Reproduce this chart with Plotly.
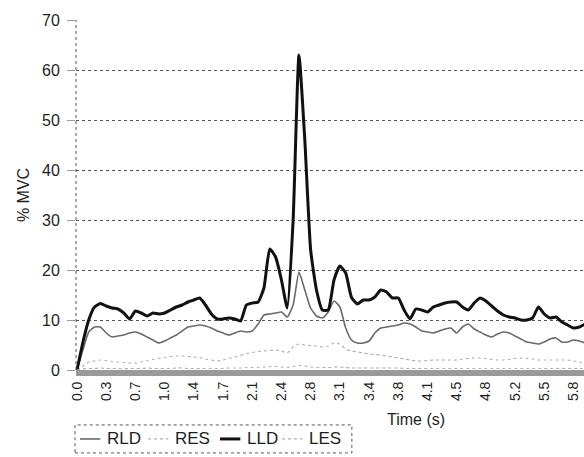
import plotly.graph_objects as go

# Sampling: 5 samples per labelled category step
label_step = 0.3436          # seconds between labelled categories
samples_per_label = 5
dt = label_step / samples_per_label

tick_labels = ["0.0", "0.3", "0.7", "1.0", "1.4", "1.7", "2.1", "2.4", "2.8",
               "3.1", "3.4", "3.8", "4.1", "4.5", "4.8", "5.2", "5.5", "5.8"]

rld = [0, 4, 7.6, 8.6, 8.6, 7.4, 6.6, 6.8, 7, 7.4,
       7.6, 7.2, 6.6, 6, 5.4, 5.8, 6.4, 7, 7.8, 8.6,
       8.8, 9, 8.8, 8.4, 7.8, 7.4, 7, 7.4, 7.8, 7.6,
       7.8, 9.2, 11, 11.2, 11.4, 11.6, 10.6, 13, 19.6, 16,
       12.4, 10.8, 10.4, 11.6, 13.8, 12.6, 8.4, 6, 5.4, 5.4,
       5.8, 7.4, 8.4, 8.6, 8.8, 9, 9.4, 9.2, 8.6, 7.8,
       7.6, 7.4, 7.8, 8.2, 8.4, 7.4, 8.6, 9.2, 8.2, 7.6,
       7, 6.6, 7.2, 7.6, 7.4, 6.8, 6.2, 5.6, 5.4, 5.2,
       5.6, 6.2, 6.4, 5.6, 5.6, 6, 5.8, 5.4]

res = [0, 0.8, 1.6, 1.8, 2, 1.9, 1.7, 1.6, 1.5, 1.4,
       1.4, 1.6, 1.9, 2.1, 2.3, 2.5, 2.7, 2.8, 2.8, 2.7,
       2.6, 2.5, 2.2, 2, 1.8, 2, 2.3, 2.6, 2.9, 3.3,
       3.5, 3.7, 3.8, 3.9, 4, 3.8, 3.4, 4.6, 5.2, 5,
       4.9, 4.8, 4.6, 4.8, 5.4, 5.2, 4.2, 3.8, 3.6, 3.4,
       3.2, 3.1, 3, 2.8, 2.6, 2.4, 2.2, 2, 1.8, 1.8,
       1.9, 2, 2, 2, 2, 2, 2.2, 2.3, 2.4, 2.4,
       2.3, 2.1, 2, 2, 2.1, 2.3, 2.4, 2.3, 2.2, 2,
       2, 2, 2, 2, 2, 1.8, 1.6, 1.4]

lld = [0, 5.5, 10, 12.6, 13.3, 12.8, 12.4, 12.2, 11.4, 10.2,
       11.8, 11.4, 10.8, 11.4, 11.2, 11.4, 12, 12.6, 13, 13.6,
       14, 14.4, 13, 11.2, 10.2, 10.2, 10.4, 10.2, 9.8, 13,
       13.4, 13.6, 16.4, 24.2, 22.6, 18, 12.4, 30, 63, 46,
       24, 16, 12, 12, 18, 20.8, 19.4, 14.5, 13.2, 14,
       14, 14.6, 16, 15.6, 14.4, 14.4, 12, 10.2, 12.2, 12,
       11.6, 12.6, 13, 13.4, 13.6, 13.6, 12.6, 12, 13.4, 14.4,
       13.8, 12.8, 11.8, 11, 10.6, 10.4, 10, 10, 10.4, 12.6,
       11.2, 10.4, 10.6, 9.6, 9, 8.4, 8.6, 9.2]

les = [0, 0.2, 0.3, 0.3, 0.4, 0.3, 0.3, 0.3, 0.2, 0.3,
       0.3, 0.3, 0.4, 0.3, 0.3, 0.3, 0.3, 0.4, 0.4, 0.3,
       0.3, 0.3, 0.3, 0.3, 0.3, 0.3, 0.4, 0.4, 0.4, 0.5,
       0.5, 0.5, 0.6, 0.7, 0.7, 0.6, 0.5, 0.7, 0.9, 0.8,
       0.6, 0.5, 0.5, 0.5, 0.6, 0.6, 0.5, 0.4, 0.4, 0.4,
       0.4, 0.4, 0.4, 0.4, 0.4, 0.4, 0.3, 0.3, 0.3, 0.3,
       0.3, 0.3, 0.3, 0.3, 0.3, 0.3, 0.3, 0.3, 0.3, 0.3,
       0.3, 0.3, 0.3, 0.3, 0.3, 0.3, 0.3, 0.3, 0.3, 0.3,
       0.3, 0.3, 0.3, 0.3, 0.3, 0.3, 0.3, 0.3]

time_s = [i * dt for i in range(len(lld))]
tick_vals = [k * label_step for k in range(len(tick_labels))]

FONT = "Liberation Sans, Arial, sans-serif"
INK = "#1e1e1e"

series = [
    ("RLD", rld, dict(color="#6a6a6a", width=1.6, dash="solid")),
    ("RES", res, dict(color="#b0b0b0", width=1.2, dash="dot")),
    ("LLD", lld, dict(color="#111111", width=3, dash="solid")),
    ("LES", les, dict(color="#b0b0b0", width=1.2, dash="dot")),
]

fig = go.Figure()
for name, values, style in series:
    fig.add_trace(go.Scatter(x=time_s, y=values, name=name, mode="lines",
                             line=dict(shape="spline", smoothing=0.5, **style)))

# Legend row drawn below the axis: sample line + label for each series
legend_sample_x = [0.0079, 0.1417, 0.2835, 0.4055]
legend_sample_w = 0.040
legend_y = -0.197
shapes = [
    # dotted left edge of the plot area
    dict(type="line", xref="paper", yref="paper", x0=0, x1=0, y0=0, y1=1,
         line=dict(color="#555555", width=1, dash="dot")),
    # dotted legend frame
    dict(type="rect", xref="paper", yref="paper", x0=-0.002, x1=0.543,
         y0=-0.237, y1=-0.157, line=dict(color="#555555", width=1, dash="dot")),
]
annotations = [
    dict(text="Time (s)", xref="paper", yref="paper", x=0.669, y=-0.112,
         xanchor="center", yanchor="top", showarrow=False,
         font=dict(family=FONT, size=16, color=INK)),
]
for (name, _, style), x0 in zip(series, legend_sample_x):
    shapes.append(dict(type="line", xref="paper", yref="paper",
                       x0=x0, x1=x0 + legend_sample_w, y0=legend_y, y1=legend_y,
                       line=dict(color=style["color"], width=style["width"],
                                 dash=style["dash"])))
    annotations.append(dict(text=name, xref="paper", yref="paper",
                            x=x0 + legend_sample_w + 0.009, y=legend_y,
                            xanchor="left", yanchor="middle", showarrow=False,
                            font=dict(family=FONT, size=17, color=INK)))

fig.update_layout(
    width=584, height=457,
    margin=dict(l=76, r=0, t=20, b=87),
    paper_bgcolor="white", plot_bgcolor="white",
    font=dict(family=FONT, size=15, color=INK),
    showlegend=False,
    xaxis=dict(range=[-0.012, 5.965], tickmode="array", tickvals=tick_vals,
               ticktext=tick_labels, tickangle=-90, showgrid=False,
               showline=True, linecolor="#9a9a9a", linewidth=6, ticks="",
               tickfont=dict(size=14, color=INK), zeroline=False),
    yaxis=dict(range=[0, 70], dtick=10, showgrid=True, gridcolor="#555555",
               griddash="dot", gridwidth=1, zeroline=False,
               showline=False, ticks="outside", ticklen=8, tickwidth=1,
               tickcolor="#9a9a9a", tickfont=dict(size=16, color=INK),
               ticklabelstandoff=4,
               title=dict(text="% MVC", font=dict(size=16, color=INK), standoff=8)),
    shapes=shapes,
    annotations=annotations,
)

fig.write_html("out.html")
